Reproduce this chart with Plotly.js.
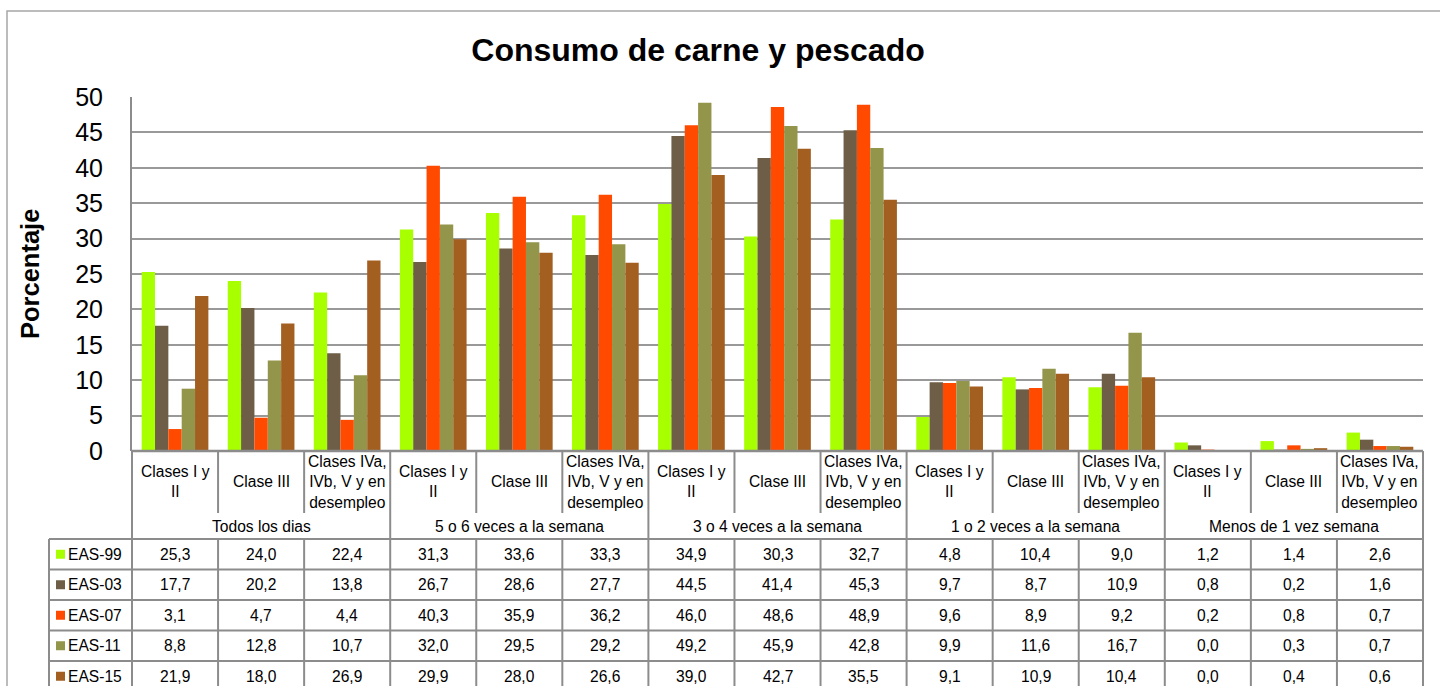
<!DOCTYPE html>
<html>
<head>
<meta charset="utf-8">
<script src="https://cdn.plot.ly/plotly-3.0.1.min.js"></script>
<style>html,body{margin:0;padding:0;background:#fff;}#chart{width:1440px;height:686px;}</style>
</head>
<body>
<div id="chart"></div>
<script>
// ---------- data ----------
const groups = ["Todos los dias", "5 o 6 veces a la semana", "3 o 4 veces a la semana", "1 o 2 veces a la semana", "Menos de 1 vez semana"];
const subgroups = ["Clases I y<br>II", "Clase III", "Clases IVa,<br>IVb, V y en<br>desempleo"];
const seriesNames = ["EAS-99", "EAS-03", "EAS-07", "EAS-11", "EAS-15"];
const eas99 = [25.3, 24.0, 22.4, 31.3, 33.6, 33.3, 34.9, 30.3, 32.7, 4.8, 10.4, 9.0, 1.2, 1.4, 2.6];
const eas03 = [17.7, 20.2, 13.8, 26.7, 28.6, 27.7, 44.5, 41.4, 45.3, 9.7, 8.7, 10.9, 0.8, 0.2, 1.6];
const eas07 = [3.1, 4.7, 4.4, 40.3, 35.9, 36.2, 46.0, 48.6, 48.9, 9.6, 8.9, 9.2, 0.2, 0.8, 0.7];
const eas11 = [8.8, 12.8, 10.7, 32.0, 29.5, 29.2, 49.2, 45.9, 42.8, 9.9, 11.6, 16.7, 0.0, 0.3, 0.7];
const eas15 = [21.9, 18.0, 26.9, 29.9, 28.0, 26.6, 39.0, 42.7, 35.5, 9.1, 10.9, 10.4, 0.0, 0.4, 0.6];
const yTicks = [0, 5, 10, 15, 20, 25, 30, 35, 40, 45, 50];

// ---------- style ----------
const colors = ["#A8FF00", "#6E5E47", "#FF4A00", "#93954A", "#A35F20"];
const FONT = "Liberation Sans, Arial, Helvetica, sans-serif";
const TS = 15.6;
const W = 1440, H = 686, ML = 132, MR = 17, MT = 97, MB = 235;
const PW = W - ML - MR, PH = H - MT - MB;
const LINE = "#8c8c8c";

const series = [eas99, eas03, eas07, eas11, eas15];
const nCat = groups.length * subgroups.length;
const xIdx = [];
for (let i = 0; i < nCat; i++) xIdx.push(i);

function pxX(p) { return (p - ML) / PW; }
function pxY(p) { return (H - MB - p) / PH; }
function catEdge(i) { return i / nCat; }
function catMid(i) { return (i + 0.5) / nCat; }
function fmt(v) { return v.toFixed(1).replace(".", ","); }

const traces = series.map((vals, k) => ({
  type: "bar", name: seriesNames[k], x: xIdx, y: vals,
  marker: { color: colors[k], line: { width: 0 } },
  hoverinfo: "none", showlegend: false
}));

const shapes = [];
const annotations = [];
function hline(x0, x1, y, w) { shapes.push({ type: "line", xref: "paper", yref: "paper", x0: pxX(x0), x1: pxX(x1), y0: pxY(y), y1: pxY(y), line: { color: LINE, width: w || 2 } }); }
function vlineP(xp, y0, y1) { shapes.push({ type: "line", xref: "paper", yref: "paper", x0: xp, x1: xp, y0: pxY(y0), y1: pxY(y1), line: { color: LINE, width: 2 } }); }

// outer chart frame
shapes.push({ type: "rect", xref: "paper", yref: "paper", x0: pxX(7), x1: pxX(1460), y0: pxY(11), y1: pxY(720), line: { color: "#a6a6a6", width: 1.5 }, fillcolor: "rgba(0,0,0,0)" });

const tableTop = 451, headBottom = 513, dataTop = 539, rowH = 30.5, tableBottom = 720;
hline(ML, ML + PW, tableTop, 2.5);
const per = subgroups.length;
for (let i = 0; i <= nCat; i++) {
  if (i % per === 0) {
    vlineP(catEdge(i), tableTop, tableBottom);
  } else {
    vlineP(catEdge(i), tableTop, headBottom);
    vlineP(catEdge(i), dataTop, tableBottom);
  }
}
vlineP(pxX(49), dataTop, tableBottom);
for (let r = 0; r <= seriesNames.length; r++) hline(49, ML + PW, dataTop + r * rowH, 2);

// category labels
for (let i = 0; i < nCat; i++) {
  annotations.push({ xref: "paper", yref: "paper", x: catMid(i), y: pxY(482), text: subgroups[i % per], showarrow: false, xanchor: "center", yanchor: "middle", font: { family: FONT, size: TS, color: "#000" } });
}
// group labels
groups.forEach((g, j) => {
  annotations.push({ xref: "paper", yref: "paper", x: (catEdge(j * per) + catEdge((j + 1) * per)) / 2, y: pxY(526), text: g, showarrow: false, xanchor: "center", yanchor: "middle", font: { family: FONT, size: TS, color: "#000" } });
});
// data cells + legend keys
series.forEach((vals, k) => {
  const yc = dataTop + (k + 0.5) * rowH;
  vals.forEach((v, i) => {
    annotations.push({ xref: "paper", yref: "paper", x: catMid(i), y: pxY(yc), text: fmt(v), showarrow: false, xanchor: "center", yanchor: "middle", font: { family: FONT, size: TS, color: "#000" } });
  });
  shapes.push({ type: "rect", xref: "paper", yref: "paper", x0: pxX(56), x1: pxX(65), y0: pxY(yc - 4.5), y1: pxY(yc + 4.5), line: { width: 0 }, fillcolor: colors[k] });
  annotations.push({ xref: "paper", yref: "paper", x: pxX(66), y: pxY(yc), text: seriesNames[k], showarrow: false, xanchor: "left", yanchor: "middle", font: { family: FONT, size: TS, color: "#000" } });
});

// y-axis title
annotations.push({ xref: "paper", yref: "paper", x: pxX(30), y: 0.5, text: "<b>Porcentaje</b>", textangle: -90, showarrow: false, xanchor: "center", yanchor: "middle", font: { family: FONT, size: 25.5, color: "#000" } });

const layout = {
  width: W, height: H,
  margin: { l: ML, r: MR, t: MT, b: MB, pad: 0 },
  paper_bgcolor: "#fff", plot_bgcolor: "#fff",
  title: { text: "<b>Consumo de carne y pescado</b>", font: { family: FONT, size: 32, color: "#000" }, xref: "paper", x: pxX(698), xanchor: "center", yref: "container", y: 1 - 50 / H, yanchor: "middle" },
  barmode: "group", bargap: 0.225, bargroupgap: 0,
  xaxis: { range: [-0.5, nCat - 0.5], showticklabels: false, showgrid: false, zeroline: false, showline: false, ticks: "", fixedrange: true },
  yaxis: { range: [0, 50], tickvals: yTicks, ticktext: yTicks.map(String), showgrid: true, gridcolor: "#999", gridwidth: 2, zeroline: false, showline: true, linecolor: LINE, linewidth: 2, ticks: "", ticklabelstandoff: 22, tickfont: { family: FONT, size: 25, color: "#000" }, fixedrange: true },
  shapes: shapes, annotations: annotations,
  showlegend: false
};

Plotly.newPlot("chart", traces, layout, { displayModeBar: false, staticPlot: true });
</script>
</body>
</html>
